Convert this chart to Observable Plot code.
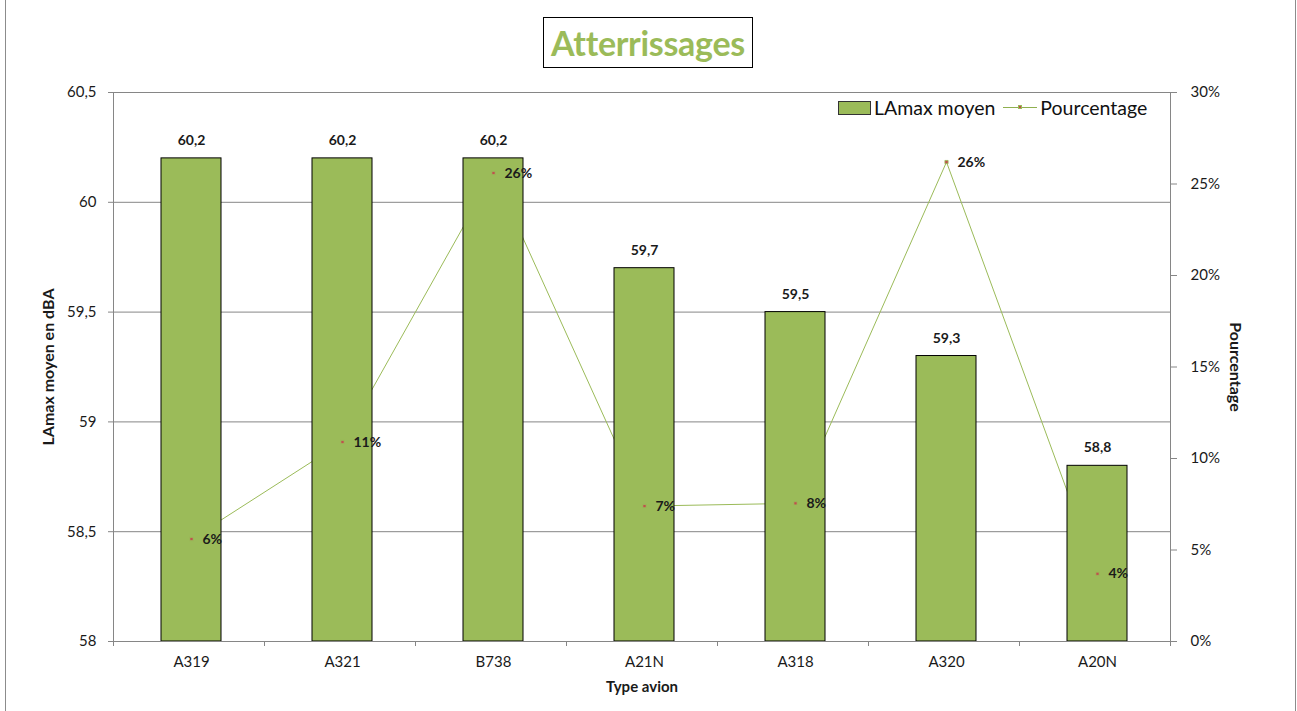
<!DOCTYPE html>
<html>
<head>
<meta charset="utf-8">
<script src="https://cdn.jsdelivr.net/npm/d3@7"></script>
<script src="https://cdn.jsdelivr.net/npm/@observablehq/plot@0.6"></script>
<style>
  html, body { margin: 0; padding: 0; background: #fff; font-family: Lato, "Open Sans", sans-serif; }
  #wrap { position: relative; width: 1297px; height: 711px; overflow: hidden; }
  #border { position: absolute; left: 5px; top: -2px; width: 1289px; height: 716px; border: 1px solid #8c8c8c; pointer-events: none; }
  #title { position: absolute; left: 543px; top: 17px; width: 208px; height: 49px; border: 1px solid #000; background: #fff;
           display: flex; align-items: center; justify-content: center; color: #9BBB59; font-weight: bold; font-size: 34px; letter-spacing: -0.3px; }
  #legend { position: absolute; left: 838px; top: 96px; display: flex; align-items: center; font-size: 19.5px; color: #111; background: #fff; }
  .sw { width: 31px; height: 12px; background: #9BBB59; border: 1px solid #333; margin-right: 3px; }
  .ln { position: relative; width: 34px; height: 0; border-top: 1px solid #8fb04f; margin: 0 3px 0 8px; }
  .ln i { position: absolute; left: 15px; top: -3px; width: 4px; height: 4px; background: #C0504D; border: 1px solid #9BBB59; box-sizing: border-box; }
</style>
</head>
<body>
<div id="wrap">
  <div id="chart"></div>
  <div id="border"></div>
  <div id="title">Atterrissages</div>
  <div id="legend"><div class="sw"></div><span>LAmax moyen</span><div class="ln"><i></i></div><span>Pourcentage</span></div>
</div>
<script>
const categories = ["A319", "A321", "B738", "A21N", "A318", "A320", "A20N"];
const lamax = [60.2, 60.2, 60.2, 59.7, 59.5, 59.3, 58.8];
const pourcentage = [5.6, 10.9, 25.6, 7.4, 7.55, 26.2, 3.7];
const yTicks = [58, 58.5, 59, 59.5, 60, 60.5];
const pctTicks = [0, 5, 10, 15, 20, 25, 30];

const yMin = 58, yMax = 60.5, pMax = 30;
const toY = p => yMin + p / pMax * (yMax - yMin);
const fromY = v => (v - yMin) / (yMax - yMin) * pMax;
const comma = v => String(v).replace(".", ",");

const table = categories.map((c, i) => ({cat: c, lamax: lamax[i], pct: pourcentage[i]}));

const grey = "#868686";
const ink = "#1a1a1a";

// category boundary ticks below the x axis
const xTicksMark = (index, scales, values, dimensions) => {
  const x0 = dimensions.marginLeft;
  const x1 = dimensions.width - dimensions.marginRight;
  const step = (x1 - x0) / categories.length;
  const y0 = dimensions.height - dimensions.marginBottom;
  const g = d3.create("svg:g");
  for (let i = 0; i <= categories.length; i++) {
    const px = Math.round(x0 + i * step) + 0.5;
    g.append("line").attr("x1", px).attr("x2", px).attr("y1", y0).attr("y2", y0 + 5)
      .attr("stroke", grey).attr("stroke-width", 1);
  }
  return g.node();
};

const chart = Plot.plot({
  width: 1297,
  height: 711,
  marginTop: 92,
  marginBottom: 70,
  marginLeft: 113,
  marginRight: 127,
  style: {fontFamily: "Lato, 'Open Sans', sans-serif", background: "white", overflow: "visible"},
  x: {domain: categories, paddingInner: 0.6, paddingOuter: 0.3, align: 0.53, axis: null},
  y: {domain: [yMin, yMax], axis: null},
  marks: [
    Plot.gridY(yTicks, {stroke: grey, strokeOpacity: 1, strokeWidth: 1}),
    Plot.line(table, {x: "cat", y: d => toY(d.pct), stroke: "#9BBB59", strokeWidth: 1}),
    Plot.barY(table, {x: "cat", y1: yMin, y2: "lamax", fill: "#9BBB59", stroke: "#000", strokeWidth: 1}),
    Plot.frame({stroke: grey, strokeWidth: 1}),
    Plot.axisY(yTicks, {anchor: "left", tickSize: 5, tickPadding: 12, tickFormat: comma, fontSize: 15, stroke: grey, fill: ink, label: null}),
    Plot.axisY(pctTicks.map(toY), {anchor: "right", tickSize: 6, tickPadding: 14, tickFormat: d => Math.round(fromY(d)) + "%", fontSize: 15, stroke: grey, fill: ink, label: null}),
    Plot.axisX({anchor: "bottom", tickSize: 0, tickPadding: 15, fontSize: 15, fill: ink, label: null}),
    xTicksMark,
    Plot.text(table, {x: "cat", y: "lamax", text: d => comma(d.lamax), dy: -18, fontWeight: "bold", fontSize: 14, fill: ink}),
    Plot.dot(table, {x: "cat", y: d => toY(d.pct), symbol: "square", r: 1.8, fill: "#C0504D", stroke: "#9BBB59", strokeWidth: 0.8}),
    Plot.text(table, {x: "cat", y: d => toY(d.pct), text: d => Math.round(d.pct) + "%", dx: 11, textAnchor: "start", fontWeight: "bold", fontSize: 14, fill: ink}),
    Plot.text(["LAmax moyen en dBA"], {frameAnchor: "left", textAnchor: "middle", dx: -65, rotate: -90, fontWeight: "bold", fontSize: 16, fill: ink}),
    Plot.text(["Pourcentage"], {frameAnchor: "right", textAnchor: "middle", dx: 65, rotate: 90, fontWeight: "bold", fontSize: 16, fill: ink}),
    Plot.text(["Type avion"], {frameAnchor: "bottom", dy: 50, fontWeight: "bold", fontSize: 15, fill: ink})
  ]
});
document.getElementById("chart").appendChild(chart);
</script>
</body>
</html>
